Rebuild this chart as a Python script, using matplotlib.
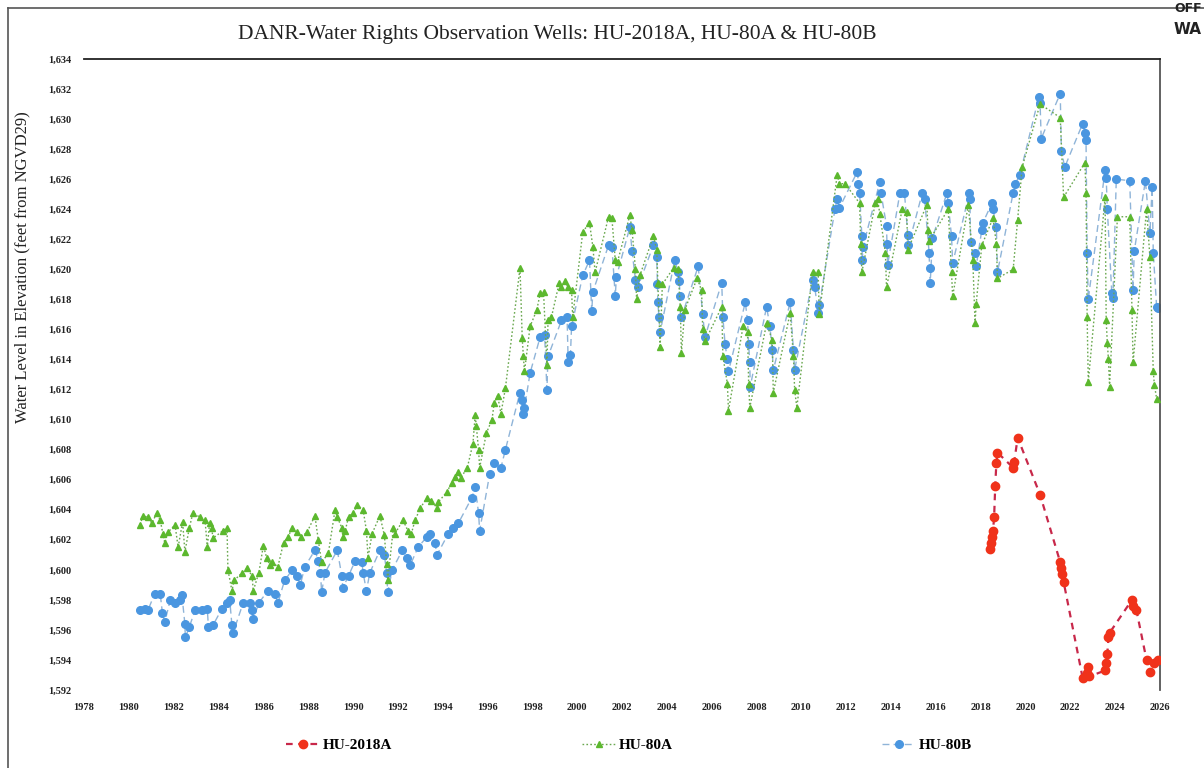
import matplotlib
matplotlib.use("Agg")
import matplotlib.pyplot as plt
from matplotlib.lines import Line2D

# ---------------- data ----------------
a80_year = [1980.50, 1980.63, 1980.85, 1981.03, 1981.25, 1981.40, 1981.52, 1981.60, 1981.75,
            1982.06, 1982.20, 1982.40, 1982.50, 1982.70, 1982.86, 1983.17, 1983.40, 1983.50,
            1983.60, 1983.70, 1983.75, 1984.20, 1984.38, 1984.42, 1984.60, 1984.70, 1985.05,
            1985.27, 1985.50, 1985.55, 1985.80, 1986.00, 1986.15, 1986.30, 1986.40, 1986.65,
            1986.90, 1987.10, 1987.30, 1987.50, 1987.70, 1987.95, 1988.30, 1988.45, 1988.60,
            1988.90, 1989.20, 1989.30, 1989.50, 1989.55, 1989.65, 1989.80, 1990.00, 1990.20,
            1990.45, 1990.60, 1990.67, 1990.85, 1991.20, 1991.40, 1991.50, 1991.55, 1991.80,
            1991.87, 1992.23, 1992.45, 1992.60, 1992.77, 1993.00, 1993.30, 1993.50, 1993.75,
            1993.80, 1994.20, 1994.40, 1994.55, 1994.70, 1994.80, 1995.10, 1995.35, 1995.45,
            1995.50, 1995.60, 1995.65, 1995.95, 1996.20, 1996.30, 1996.45, 1996.60, 1996.80,
            1997.45, 1997.55, 1997.60, 1997.65, 1997.90, 1998.20, 1998.35, 1998.50, 1998.65,
            1998.70, 1998.85, 1999.20, 1999.30, 1999.45, 1999.60, 1999.75, 1999.80, 2000.25,
            2000.55, 2000.70, 2000.80, 2001.40, 2001.55, 2001.70, 2001.80, 2002.35, 2002.45,
            2002.60, 2002.65, 2002.80, 2003.40, 2003.55, 2003.60, 2003.70, 2003.80, 2004.30,
            2004.50, 2004.60, 2004.65, 2004.80, 2005.35, 2005.55, 2005.60, 2005.70, 2006.45,
            2006.50, 2006.70, 2006.75, 2007.40, 2007.60, 2007.65, 2007.70, 2008.45, 2008.70,
            2008.75, 2009.50, 2009.65, 2009.70, 2009.80, 2010.50, 2010.75, 2010.80, 2011.60,
            2011.70, 2011.95, 2012.60, 2012.65, 2012.70, 2013.30, 2013.40, 2013.50, 2013.75,
            2013.80, 2014.50, 2014.70, 2014.75, 2015.60, 2015.65, 2015.70, 2016.55, 2016.70,
            2016.75, 2017.45, 2017.65, 2017.75, 2017.80, 2018.05, 2018.55, 2018.70, 2018.75,
            2019.45, 2019.65, 2019.85, 2020.65, 2021.55, 2021.70, 2022.65, 2022.70, 2022.75,
            2022.80, 2023.55, 2023.60, 2023.65, 2023.70, 2023.75, 2024.10, 2024.65, 2024.75,
            2024.80, 2025.40, 2025.55, 2025.70, 2025.75, 2025.85]
a80_level = [1603.0, 1603.6, 1603.5, 1603.1, 1603.8, 1603.3, 1602.4, 1601.8, 1602.5,
             1603.0, 1601.5, 1603.2, 1601.2, 1602.8, 1603.8, 1603.5, 1603.3, 1601.5,
             1603.1, 1602.8, 1602.1, 1602.6, 1602.8, 1600.0, 1598.6, 1599.3, 1599.8,
             1600.1, 1599.6, 1598.6, 1599.8, 1601.6, 1600.8, 1600.3, 1600.5, 1600.2,
             1601.8, 1602.2, 1602.8, 1602.5, 1602.2, 1602.5, 1603.6, 1602.0, 1600.5,
             1601.1, 1604.0, 1603.5, 1602.8, 1602.2, 1602.6, 1603.5, 1603.8, 1604.3,
             1604.0, 1602.6, 1600.8, 1602.4, 1603.6, 1602.3, 1600.4, 1599.3, 1602.8,
             1602.4, 1603.3, 1602.6, 1602.4, 1603.3, 1604.1, 1604.8, 1604.6, 1604.1,
             1604.5, 1605.2, 1605.8, 1606.2, 1606.5, 1606.1, 1606.8, 1608.4, 1610.3,
             1609.6, 1608.0, 1606.8, 1609.1, 1610.0, 1611.1, 1611.6, 1610.4, 1612.1,
             1620.1, 1615.4, 1614.2, 1613.2, 1616.2, 1617.3, 1618.4, 1618.5, 1613.6,
             1616.6, 1616.8, 1619.1, 1618.8, 1619.2, 1618.8, 1618.6, 1616.8, 1622.5,
             1623.1, 1621.5, 1619.8, 1623.5, 1623.4, 1620.6, 1620.5, 1623.6, 1622.6,
             1620.0, 1618.0, 1619.6, 1622.2, 1621.3, 1619.1, 1614.8, 1619.0, 1620.1,
             1620.0, 1617.5, 1614.4, 1617.3, 1619.4, 1618.6, 1616.0, 1615.2, 1617.5,
             1614.2, 1612.4, 1610.6, 1616.2, 1615.8, 1612.4, 1610.8, 1616.4, 1615.3,
             1611.8, 1617.1, 1614.2, 1612.0, 1610.8, 1619.8, 1619.8, 1617.0, 1626.3,
             1625.7, 1625.7, 1624.4, 1621.7, 1619.8, 1624.4, 1624.7, 1623.7, 1621.1,
             1618.8, 1624.0, 1623.8, 1621.3, 1624.3, 1622.6, 1621.9, 1624.0, 1619.8,
             1618.2, 1624.3, 1620.6, 1616.4, 1617.7, 1621.6, 1623.4, 1621.7, 1619.4,
             1620.0, 1623.3, 1626.8, 1631.0, 1630.1, 1624.8, 1627.1, 1625.1, 1616.8,
             1612.5, 1624.8, 1616.6, 1615.1, 1614.0, 1612.2, 1623.5, 1623.5, 1617.3,
             1613.8, 1624.0, 1620.8, 1613.2, 1612.3, 1611.4]

b80_year = [1980.50, 1980.70, 1980.85, 1981.15, 1981.40, 1981.50, 1981.60, 1981.85, 1982.06,
            1982.30, 1982.37, 1982.50, 1982.52, 1982.70, 1982.95, 1983.25, 1983.50, 1983.55,
            1983.75, 1984.15, 1984.40, 1984.50, 1984.60, 1984.65, 1985.10, 1985.40, 1985.50,
            1985.55, 1985.80, 1986.20, 1986.50, 1986.65, 1986.95, 1987.30, 1987.50, 1987.65,
            1987.85, 1988.30, 1988.45, 1988.55, 1988.60, 1988.75, 1989.30, 1989.50, 1989.55,
            1989.80, 1990.10, 1990.40, 1990.45, 1990.60, 1990.75, 1991.20, 1991.40, 1991.50,
            1991.55, 1991.75, 1992.20, 1992.40, 1992.55, 1992.90, 1993.30, 1993.45, 1993.65,
            1993.75, 1994.25, 1994.45, 1994.70, 1995.30, 1995.45, 1995.60, 1995.65, 1996.10,
            1996.30, 1996.60, 1996.80, 1997.45, 1997.55, 1997.60, 1997.65, 1997.90, 1998.35,
            1998.55, 1998.65, 1998.70, 1999.30, 1999.55, 1999.60, 1999.70, 1999.75, 2000.25,
            2000.55, 2000.65, 2000.70, 2001.40, 2001.55, 2001.70, 2001.75, 2002.35, 2002.45,
            2002.60, 2002.70, 2003.40, 2003.55, 2003.58, 2003.60, 2003.65, 2003.70, 2004.35,
            2004.50, 2004.55, 2004.60, 2004.65, 2005.40, 2005.60, 2005.70, 2006.45, 2006.50,
            2006.60, 2006.70, 2006.75, 2007.50, 2007.60, 2007.65, 2007.70, 2007.72, 2008.45,
            2008.60, 2008.70, 2008.75, 2009.50, 2009.65, 2009.70, 2010.50, 2010.60, 2010.75,
            2010.80, 2011.50, 2011.60, 2011.70, 2012.50, 2012.55, 2012.60, 2012.70, 2012.72,
            2012.75, 2013.50, 2013.55, 2013.80, 2013.82, 2013.85, 2014.40, 2014.60, 2014.75,
            2014.78, 2015.40, 2015.50, 2015.70, 2015.72, 2015.75, 2015.85, 2016.50, 2016.55,
            2016.70, 2016.75, 2017.50, 2017.52, 2017.55, 2017.75, 2017.80, 2018.05, 2018.10,
            2018.50, 2018.55, 2018.70, 2018.75, 2019.45, 2019.55, 2019.75, 2020.60, 2020.65,
            2020.70, 2021.55, 2021.60, 2021.75, 2022.55, 2022.65, 2022.70, 2022.75, 2022.80,
            2023.55, 2023.60, 2023.65, 2023.85, 2023.90, 2024.05, 2024.65, 2024.80, 2024.85,
            2025.35, 2025.55, 2025.65, 2025.70, 2025.85, 2025.90]
b80_level = [1597.3, 1597.4, 1597.3, 1598.4, 1598.4, 1597.1, 1596.5, 1598.0, 1597.8,
             1598.0, 1598.3, 1596.4, 1595.5, 1596.2, 1597.3, 1597.3, 1597.4, 1596.2,
             1596.3, 1597.4, 1597.8, 1598.0, 1596.3, 1595.8, 1597.8, 1597.8, 1597.3,
             1596.7, 1597.8, 1598.6, 1598.4, 1597.8, 1599.3, 1600.0, 1599.6, 1599.0,
             1600.2, 1601.3, 1600.6, 1599.8, 1598.5, 1599.8, 1601.3, 1599.6, 1598.8,
             1599.6, 1600.6, 1600.5, 1599.8, 1598.6, 1599.8, 1601.3, 1601.0, 1599.8,
             1598.5, 1600.0, 1601.3, 1600.8, 1600.3, 1601.5, 1602.2, 1602.4, 1601.8,
             1601.0, 1602.4, 1602.8, 1603.1, 1604.8, 1605.5, 1603.8, 1602.6, 1606.4,
             1607.1, 1606.8, 1608.0, 1611.8, 1611.3, 1610.4, 1610.8, 1613.1, 1615.5,
             1615.6, 1612.0, 1614.2, 1616.6, 1616.8, 1613.8, 1614.3, 1616.2, 1619.6,
             1620.6, 1617.2, 1618.5, 1621.6, 1621.5, 1618.2, 1619.5, 1622.8, 1621.2,
             1619.3, 1618.8, 1621.6, 1620.8, 1619.0, 1617.8, 1616.8, 1615.8, 1620.6,
             1619.8, 1619.2, 1618.2, 1616.8, 1620.2, 1617.0, 1615.5, 1619.1, 1616.8,
             1615.0, 1614.0, 1613.2, 1617.8, 1616.6, 1615.0, 1613.8, 1612.2, 1617.5,
             1616.2, 1614.6, 1613.3, 1617.8, 1614.6, 1613.3, 1619.3, 1618.8, 1617.1,
             1617.6, 1624.0, 1624.7, 1624.1, 1626.5, 1625.7, 1625.1, 1622.2, 1620.6,
             1621.5, 1625.8, 1625.1, 1622.9, 1621.7, 1620.3, 1625.1, 1625.1, 1622.3,
             1621.6, 1625.1, 1624.7, 1621.1, 1620.1, 1619.1, 1622.1, 1625.1, 1624.4,
             1622.2, 1620.4, 1625.1, 1624.7, 1621.8, 1621.1, 1620.2, 1622.6, 1623.1,
             1624.4, 1624.0, 1622.8, 1619.8, 1625.1, 1625.7, 1626.3, 1631.5, 1631.1,
             1628.7, 1631.7, 1627.9, 1626.8, 1629.7, 1629.1, 1628.6, 1621.1, 1618.0,
             1626.6, 1626.1, 1624.0, 1618.4, 1618.1, 1626.0, 1625.9, 1618.6, 1621.2,
             1625.9, 1622.4, 1625.5, 1621.1, 1617.5, 1617.4]

h2018_year = [2018.40, 2018.45, 2018.50, 2018.55, 2018.60, 2018.65, 2018.70, 2018.75,
              2019.45, 2019.50, 2019.65, 2020.65, 2021.55, 2021.60, 2021.65, 2021.70,
              2022.55, 2022.75, 2022.80, 2022.85, 2023.55, 2023.60, 2023.65, 2023.70,
              2023.75, 2024.75, 2024.80, 2024.95, 2025.40, 2025.55, 2025.75, 2025.90]
h2018_level = [1601.4, 1601.8, 1602.2, 1602.6, 1603.5, 1605.6, 1607.1, 1607.8,
               1606.8, 1607.2, 1608.8, 1605.0, 1600.5, 1600.1, 1599.7, 1599.2,
               1592.8, 1593.1, 1593.5, 1592.9, 1593.3, 1593.8, 1594.4, 1595.5,
               1595.8, 1598.0, 1597.6, 1597.3, 1594.0, 1593.2, 1593.8, 1594.0]

x_ticks = list(range(1978, 2027, 2))
y_ticks = list(range(1592, 1635, 2))

title = "DANR-Water Rights Observation Wells: HU-2018A, HU-80A & HU-80B"
ylabel = "Water Level in Elevation (feet from NGVD29)"

# ---------------- figure ----------------
W, H = 1204, 768
fig = plt.figure(figsize=(W / 100, H / 100), dpi=100)
fig.patch.set_facecolor("white")
ax = fig.add_axes([84 / W, 1 - 690 / H, (1160 - 84) / W, (690 - 59) / H])

serif = "Liberation Serif"
green, blue, red = "#5cb82e", "#4a96e0", "#f0321a"

l80a, = ax.plot(a80_year, a80_level, linestyle=(0, (1.2, 1.6)), color="#6aa84f", lw=1.0,
                marker="^", ms=4.5, mfc=green, mec=green, label="HU-80A", zorder=3)
l80b, = ax.plot(b80_year, b80_level, linestyle=(0, (5, 3)), color="#8fb4d8", lw=1.0,
                marker="o", ms=5.5, mfc=blue, mec=blue, label="HU-80B", zorder=2)
l18, = ax.plot(h2018_year, h2018_level, linestyle=(0, (3, 2.5)), color="#c8284a", lw=1.6,
               marker="o", ms=6, mfc=red, mec=red, label="HU-2018A", zorder=4)

ax.set_xlim(1978, 2026)
ax.set_ylim(1592, 1634)
ax.set_xticks(x_ticks)
ax.set_yticks(y_ticks)
ax.set_xticklabels([str(t) for t in x_ticks])
ax.set_yticklabels([f"{t:,}" for t in y_ticks])
ax.tick_params(length=0, pad=9)
for lab in ax.get_xticklabels() + ax.get_yticklabels():
    lab.set_fontfamily(serif)
    lab.set_fontweight("bold")
    lab.set_fontsize(7.5)
    lab.set_color("#222222")

for s in ["left", "bottom"]:
    ax.spines[s].set_visible(False)
ax.spines["top"].set_color("#222222")
ax.spines["top"].set_linewidth(1.3)
ax.spines["right"].set_color("#555555")
ax.spines["right"].set_linewidth(1.3)

ax.set_ylabel(ylabel, fontfamily=serif, fontsize=12, color="#222222")
ax.yaxis.set_label_coords(-0.050, 0.67)

fig.text(557 / W, 1 - 35 / H, title, fontfamily=serif, fontsize=15.5, ha="center",
         va="center", color="#222222")

# legends (three separate entries)
for handle, xpos in [(l18, 272 / W), (l80a, 568 / W), (l80b, 868 / W)]:
    leg = fig.legend(handles=[handle], loc="center left", bbox_to_anchor=(xpos, 1 - 745 / H),
                     frameon=False, handlelength=2.2, handletextpad=0.2,
                     prop={"family": serif, "weight": "bold", "size": 11})

# page frame
fig.add_artist(Line2D([8 / W, 8 / W], [0, 1 - 8 / H], transform=fig.transFigure,
                      color="#555555", lw=1.2))
fig.add_artist(Line2D([8 / W, 1], [1 - 8 / H, 1 - 8 / H], transform=fig.transFigure,
                      color="#555555", lw=1.2))
fig.text(1202 / W, 1 - 2 / H, "OFF", fontfamily="DejaVu Sans", fontweight="bold",
         fontsize=9, va="top", ha="right", color="#222222")
fig.text(1202 / W, 1 - 29 / H, "WA", fontfamily="DejaVu Sans", fontweight="bold",
         fontsize=11, va="center", ha="right", color="#222222")

fig.savefig("out.png", dpi=100)
